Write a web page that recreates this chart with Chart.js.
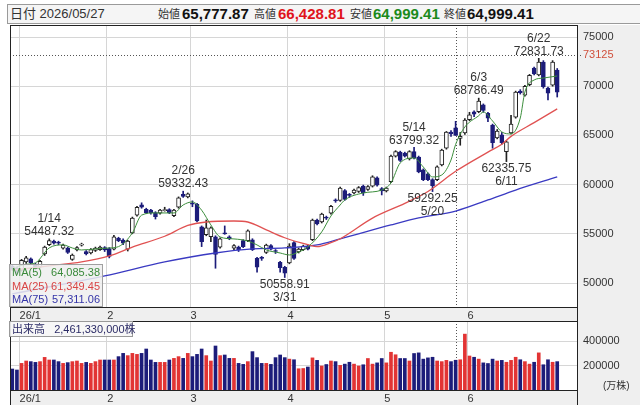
<!DOCTYPE html>
<html lang="ja">
<head>
<meta charset="utf-8">
<title>日足チャート</title>
<script src="https://cdn.jsdelivr.net/npm/chart.js@4.4.1/dist/chart.umd.min.js"></script>
<style>
  html, body { margin: 0; padding: 0; background: #fff; }
  body { width: 640px; height: 405px; overflow: hidden; position: relative;
         font-family: "Liberation Sans", "Noto Sans CJK JP", sans-serif; color: #333; }
  canvas { position: absolute; left: 0; }
  #head { position: absolute; left: 7px; top: 4px; width: 633px; height: 20px; box-sizing: border-box;
          border: 1px solid #9a9a9a; border-right: none; background: #f5f5f5; }
  #head span { position: absolute; top: 0; line-height: 18px; white-space: nowrap; }
  #head .d { font-size: 13px; color: #333; }
  #head .k { font-size: 11px; color: #333; }
  #head .v { font-size: 15px; font-weight: bold; color: #111; }
  #maBox { position: absolute; left: 9px; top: 264px; width: 94px; height: 43px; box-sizing: border-box;
           border: 1px solid #a0a0a0; background: rgba(238,238,238,0.85); font-size: 11px; padding-top: 1px; }
  #maBox div { display: flex; justify-content: space-between; line-height: 13.5px; padding: 0 2px 0 2px; }
  #volBox { position: absolute; left: 9px; top: 321px; width: 124px; height: 16px; box-sizing: border-box;
            border: 1px solid #999; background: rgba(246,246,246,0.9); font-size: 11px; line-height: 14px;
            color: #2b2b66; padding-left: 2px; white-space: nowrap; }
  #unit { position: absolute; left: 603px; top: 377px; font-size: 10px; color: #333; }
</style>
</head>
<body>
<div id="head">
  <span class="d" style="left:2px">日付 2026/05/27</span>
  <span class="k" style="left:150px">始値</span><span class="v" style="left:174px">65,777.87</span>
  <span class="k" style="left:246px">高値</span><span class="v" style="left:270px;color:#e0141b">66,428.81</span>
  <span class="k" style="left:342px">安値</span><span class="v" style="left:365px;color:#1b8a1b">64,999.41</span>
  <span class="k" style="left:436px">終値</span><span class="v" style="left:459px">64,999.41</span>
</div>
<canvas id="priceChart" width="640" height="296" style="top:25px"></canvas>
<canvas id="volChart" width="640" height="84" style="top:321px"></canvas>
<div id="maBox">
  <div style="color:#3a8a3a"><span>MA(5)</span><span>64,085.38</span></div>
  <div style="color:#d94545"><span>MA(25)</span><span>61,349.45</span></div>
  <div style="color:#3434a8"><span>MA(75)</span><span>57,311.06</span></div>
</div>
<div id="volBox">出来高&nbsp;&nbsp;&nbsp;2,461,330,000株</div>
<div id="unit">(万株)</div>

<script>
// --- データ ---
const dates = ['12/29','12/30',
  '1/5','1/6','1/7','1/8','1/9','1/13','1/14','1/15','1/16','1/19','1/20','1/21','1/22','1/23','1/26','1/27','1/28','1/29','1/30',
  '2/2','2/3','2/4','2/5','2/6','2/9','2/10','2/12','2/13','2/16','2/17','2/18','2/19','2/20','2/24','2/25','2/26','2/27',
  '3/2','3/3','3/4','3/5','3/6','3/9','3/10','3/11','3/12','3/13','3/16','3/17','3/18','3/19','3/23','3/24','3/25','3/26','3/27','3/30','3/31',
  '4/1','4/2','4/3','4/6','4/7','4/8','4/9','4/10','4/13','4/14','4/15','4/16','4/17','4/20','4/21','4/22','4/23','4/24','4/27','4/28','4/30',
  '5/1','5/7','5/8','5/11','5/12','5/13','5/14','5/15','5/18','5/19','5/20','5/21','5/22','5/25','5/26','5/27','5/28','5/29',
  '6/1','6/2','6/3','6/4','6/5','6/8','6/9','6/10','6/11','6/12','6/15','6/16','6/17','6/18','6/19','6/22','6/23','6/24','6/25','6/26'];

const open = [51700,51500,51300,52150,52450,51900,51600,52950,53900,54250,54150,53550,53550,52400,53350,53850,53200,53050,53300,53400,53600,
  53500,53450,54550,54350,53450,55100,56900,57950,57500,57400,57150,57100,57350,57450,56850,57700,59000,58750,
  58100,58000,55700,54900,54700,54700,53650,55100,54700,53550,53650,54300,54300,54400,52500,52600,53100,53800,53300,52100,51600,
  52050,54100,53150,53400,53750,54400,56400,56200,56700,57100,58450,58400,59400,59000,59150,59300,59850,59500,59850,60700,59600,
  59350,60300,62900,63300,63200,62600,63350,62800,61500,61100,60500,60500,62000,63700,65350,65777.87,64700,65250,
  66600,67400,67400,68100,67250,66050,64750,65050,63350,65250,66850,69500,69100,70150,71850,71150,72450,69800,70100,71650];
const high = [51900,51600,52400,52700,52550,52000,52300,53750,54487.32,54350,54250,53950,53650,52950,53700,54050,53300,53500,53650,53750,53700,
  53600,54850,54650,54500,54350,56700,57800,58150,57600,57500,57250,57500,57700,57550,57500,58750,59332.43,59150,
  58350,58100,55800,56400,55700,54800,54600,55800,54800,53900,53750,54400,55400,54500,52600,52700,53950,53900,53400,52200,51700,
  54000,54200,53550,53850,53850,56500,56500,57100,56800,57900,58550,59750,59500,59100,59550,59800,59950,59900,60900,60800,59700,
  59750,63000,63450,63400,63300,63450,63799.32,62900,61600,61200,60600,61900,63600,65400,65500,66428.81,65300,66700,
  67350,67500,68786.49,68200,67350,66150,65600,65300,64450,67050,69500,69650,70100,71200,71950,72831.73,72600,69900,72600,71800];
const low = [51300,50900,51200,52000,51900,51300,51500,52800,53800,53950,53900,53450,53000,52300,53250,53750,52850,52950,53200,53300,53200,
  52550,53350,54200,53900,53250,55000,56800,57600,57050,57000,56500,57000,57300,57050,56750,57600,58700,58650,
  57750,56200,53700,54800,54200,51500,53550,54950,54400,53300,53200,53600,54200,53300,51100,52300,53000,53350,53000,51100,50558.91,
  51950,52400,53050,53300,53350,54300,55900,56100,56450,57000,58200,58300,58400,58700,59050,59200,58900,59400,59750,59850,58950,
  59250,60200,62800,62350,62800,62500,62600,61200,60400,60400,59292.25,60400,61900,63600,64900,64999.41,64000,65100,
  66500,66900,67300,67350,66400,63700,64650,64100,62335.75,65150,66750,69200,69000,70050,71150,71050,69800,68600,70000,68900];
const close = [51400,51000,52300,52550,52050,51500,52200,53650,54300,54050,54050,53850,53100,52850,53600,53950,52950,53400,53550,53650,53350,
  52700,54700,54300,54050,54250,56600,57700,57700,57150,57150,56750,57400,57450,57150,57400,58650,58800,59050,
  58000,56300,54200,55600,55600,52900,54500,55000,54500,53800,53400,53700,55300,53400,51600,52500,53850,53450,53200,51550,51000,
  53750,52500,53450,53750,53450,56400,56000,57000,56600,57800,58350,59650,58500,58900,59450,59700,59150,59800,60800,59950,59350,
  59650,62900,63350,62450,62900,63350,62700,61300,60500,60500,59900,61800,63500,65350,65150,64999.41,64900,66550,
  67100,67150,68500,67550,66750,64250,65450,64250,64350,66150,69400,69350,70000,71100,71250,72450,69950,69300,72450,69400];

// 出来高 (万株)
const volume = [176000,168000,221000,240000,235000,229000,235000,269000,248000,248000,235000,221000,227000,235000,240000,221000,229000,221000,235000,248000,248000,
  248000,248000,275000,301000,283000,301000,293000,301000,336000,248000,229000,229000,229000,248000,261000,275000,261000,301000,
  275000,293000,336000,283000,240000,360000,283000,288000,261000,261000,221000,213000,235000,315000,267000,221000,221000,213000,267000,288000,267000,
  255000,250000,178000,180000,192000,265000,245000,200000,212000,240000,235000,205000,215000,230000,215000,200000,210000,260000,215000,225000,260000,
  225000,310000,290000,260000,260000,240000,300000,305000,255000,265000,270000,240000,235000,245000,235000,246133,250000,455000,
  280000,270000,255000,225000,220000,255000,240000,245000,230000,245000,270000,250000,235000,215000,230000,305000,210000,250000,230000,235000];

// 移動平均 [日付の位置, 値]
const ma5Pts = [[0,51500],[3,51900],[5,52050],[8,53570],[11,53870],[13,53560],[15,53360],[18,53460],[21,53560],[23,53700],
  [26,55090],[28,56900],[31,57120],[35,57120],[37,57930],[39,58240],[41,57400],[43,55900],[45,54680],[48,54480],[51,54270],
  [53,53870],[55,53360],[58,53050],[60,52850],[62,53150],[64,53660],[67,55190],[69,56810],[71,57930],[72,58440],[76,59150],
  [80,59450],[82,60170],[84,62200],[87,62710],[89,61790],[91,60780],[93,60980],[95,62500],[96,64085],[98,65860],[101,67000],
  [102,67380],[104,66470],[106,65350],[108,65150],[110,66770],[111,69410],[113,70630],[115,70830],[118,71040]];
const ma25Pts = [[0,51300],[8,51750],[15,52150],[21,52750],[26,53650],[33,54750],[38,55850],[42,56200],[48,56300],[51,56200],
  [55,55400],[59,54600],[64,53900],[66,53700],[69,54100],[71,54500],[78,56600],[85,58100],[90,59300],[96,61349],[103,63300],
  [106,64100],[108,64900],[113,66300],[118,67700]];
const ma75Pts = [[0,48900],[20,50720],[33,52140],[44,53050],[52,53460],[59,53560],[66,53870],[71,54480],[82,55900],[88,56610],
  [96,57311],[103,58440],[109,59450],[118,60780]];

const priceTicks = [50000, 55000, 60000, 65000, 70000, 75000];
const volTicks = [200000, 400000];
const tickIdx = [2, 21, 39, 60, 81, 99];
const tickText = ['26/1', '2', '3', '4', '5', '6'];
const markIdx = [8, 37, 59, 87, 91, 101, 107, 114];
const markSide = ['H', 'H', 'L', 'H', 'L', 'H', 'L', 'H'];
const cursorIdx = 96;
const cursorPrice = 73125;
const padSlots = 4;

// --- 色 ---
const GRID = '#d6d6d6';
const UP_FILL = '#ffffff', UP_LINE = '#222222', DOWN = '#1c1c7a';
const VOL_UP = '#e23434', VOL_DOWN = '#1c1c7a';
const FONT = '"Liberation Sans", "Noto Sans CJK JP", sans-serif';

Chart.defaults.font.family = FONT;
Chart.defaults.color = '#333';

const labels = dates.concat(new Array(padSlots).fill(''));
const isUp = close.map((c, i) => c >= open[i]);

function series(pts) {
  const arr = new Array(labels.length).fill(null);
  pts.forEach(([i, v]) => { arr[i] = v; });
  return arr;
}

// 背景と枠
const frame = {
  id: 'frame',
  beforeDraw(chart) {
    const { ctx, chartArea: a, width, height } = chart;
    ctx.save();
    ctx.fillStyle = '#ffffff';
    ctx.fillRect(0, 0, width, height);
    ctx.fillStyle = '#efefef';
    ctx.fillRect(a.right, 0, width - a.right, height);
    ctx.fillRect(a.left, a.bottom, a.right - a.left, height - a.bottom);
    ctx.restore();
  },
  afterDraw(chart) {
    const { ctx, chartArea: a, height } = chart;
    ctx.save();
    ctx.strokeStyle = '#222';
    ctx.lineWidth = 1;
    ctx.strokeRect(a.left + 0.5, a.top + 0.5, a.right - a.left - 1, a.bottom - a.top - 1);
    ctx.beginPath();
    ctx.moveTo(a.right - 0.5, 0);
    ctx.lineTo(a.right - 0.5, height);
    ctx.moveTo(a.left + 0.5, a.top);
    ctx.lineTo(a.left + 0.5, height);
    ctx.stroke();
    ctx.restore();
  }
};

// カーソル (点線)
function cursorPlugin(withPrice) {
  return {
    id: 'cursor',
    beforeDatasetsDraw(chart) {
      const { ctx, chartArea: a, scales } = chart;
      const x = Math.round(scales.x.getPixelForValue(cursorIdx)) + 0.5;
      ctx.save();
      ctx.strokeStyle = '#555';
      ctx.lineWidth = 1;
      ctx.setLineDash([1, 2]);
      ctx.beginPath();
      ctx.moveTo(x, a.top);
      ctx.lineTo(x, a.bottom);
      if (withPrice) {
        const y = Math.round(scales.y.getPixelForValue(cursorPrice)) + 0.5;
        ctx.moveTo(a.left, y);
        ctx.lineTo(a.right + 4, y);
      }
      ctx.stroke();
      ctx.restore();
    }
  };
}

// 高値・安値の注記
const marks = {
  id: 'marks',
  afterDatasetsDraw(chart) {
    const { ctx, scales: { x, y } } = chart;
    ctx.save();
    ctx.font = '12px ' + FONT;
    ctx.fillStyle = '#333';
    ctx.textAlign = 'center';
    ctx.textBaseline = 'middle';
    markIdx.forEach((i, k) => {
      const px = x.getPixelForValue(i);
      if (markSide[k] === 'H') {
        const py = y.getPixelForValue(high[i]);
        ctx.fillText(high[i].toFixed(2), px, py - 7);
        ctx.fillText(dates[i], px, py - 20);
      } else {
        const py = y.getPixelForValue(low[i]);
        ctx.fillText(low[i].toFixed(2), px, py + 7);
        ctx.fillText(dates[i], px, py + 20);
      }
    });
    ctx.restore();
  }
};

function xScale(h) {
  return {
    type: 'category',
    offset: true,
    grid: {
      offset: true,
      drawTicks: false,
      color: c => tickIdx.includes(c.index) ? GRID : 'rgba(0,0,0,0)'
    },
    border: { display: false },
    ticks: {
      autoSkip: false, maxRotation: 0, minRotation: 0,
      align: 'start', labelOffset: -2, padding: 1,
      font: { size: 11 }, color: '#333',
      callback: (v, i) => {
        const k = tickIdx.indexOf(i);
        return k >= 0 ? tickText[k] : '';
      }
    },
    afterFit: s => { s.height = h; s.paddingLeft = 0; s.paddingRight = 0; }
  };
}

// 右側の価格軸 (ラベルのはみ出し用の余白は付けない)
function fitRight(s) {
  s.width = 62;
  s.paddingTop = 0;
  s.paddingBottom = 0;
}

// --- 株価チャート ---
new Chart(document.getElementById('priceChart'), {
  type: 'bar',
  data: {
    labels,
    datasets: [
      { type: 'line', data: series(ma5Pts), borderColor: '#3d8f3d', borderWidth: 1, pointRadius: 0,
        spanGaps: true, cubicInterpolationMode: 'monotone', order: 0 },
      { type: 'line', data: series(ma25Pts), borderColor: '#e05252', borderWidth: 1.3, pointRadius: 0,
        spanGaps: true, cubicInterpolationMode: 'monotone', order: 1 },
      { type: 'line', data: series(ma75Pts), borderColor: '#3a3ac2', borderWidth: 1.3, pointRadius: 0,
        spanGaps: true, cubicInterpolationMode: 'monotone', order: 2 },
      { data: open.map((o, i) => [o, close[i]]),
        backgroundColor: isUp.map(u => u ? UP_FILL : DOWN),
        borderColor: isUp.map(u => u ? UP_LINE : DOWN),
        borderWidth: 1, borderSkipped: false, barThickness: 4, grouped: false, order: 3 },
      { data: low.map((l, i) => [l, high[i]]),
        backgroundColor: isUp.map(u => u ? UP_LINE : DOWN),
        barThickness: 1, grouped: false, order: 4 }
    ]
  },
  options: {
    responsive: false,
    animation: false,
    layout: { padding: { left: 10, right: 0, top: 0, bottom: 0 } },
    plugins: { legend: { display: false }, tooltip: { enabled: false } },
    scales: {
      x: xScale(13),
      y: {
        position: 'right',
        min: 47460, max: 76220,
        afterBuildTicks: s => { s.ticks = priceTicks.concat([cursorPrice]).map(v => ({ value: v })); },
        grid: {
          drawTicks: false,
          color: c => (c.tick && c.tick.value === cursorPrice) ? 'rgba(0,0,0,0)' : GRID
        },
        border: { display: false },
        ticks: {
          autoSkip: false, padding: 5, font: { size: 11 },
          color: c => (c.tick && c.tick.value === cursorPrice) ? '#d0503c' : '#333',
          callback: v => String(v)
        },
        afterFit: fitRight
      }
    }
  },
  plugins: [frame, cursorPlugin(true), marks]
});

// --- 出来高チャート ---
new Chart(document.getElementById('volChart'), {
  type: 'bar',
  data: {
    labels,
    datasets: [{
      data: volume,
      backgroundColor: isUp.map(u => u ? VOL_UP : VOL_DOWN),
      barThickness: 3
    }]
  },
  options: {
    responsive: false,
    animation: false,
    layout: { padding: { left: 10, right: 0, top: 0, bottom: 0 } },
    plugins: { legend: { display: false }, tooltip: { enabled: false } },
    scales: {
      x: xScale(14),
      y: {
        position: 'right',
        min: 0, max: 560000,
        afterBuildTicks: s => { s.ticks = volTicks.map(v => ({ value: v })); },
        grid: { drawTicks: false, color: GRID },
        border: { display: false },
        ticks: { autoSkip: false, padding: 5, font: { size: 11 }, color: '#333', callback: v => String(v) },
        afterFit: fitRight
      }
    }
  },
  plugins: [frame, cursorPlugin(false)]
});
</script>
</body>
</html>
